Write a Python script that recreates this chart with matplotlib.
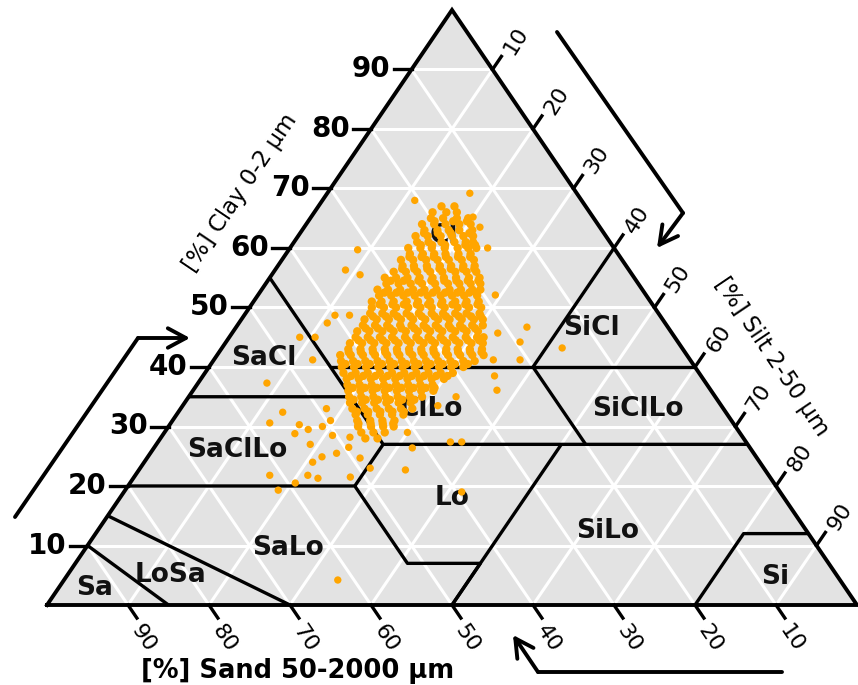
"""Soil texture triangle with sample points."""
import numpy as np
import matplotlib.pyplot as plt

# Class boundaries as (clay, silt) vertex chains in percent
boundaries = [
    [(10, 0), (0, 15)],                                  # Sa / LoSa
    [(15, 0), (0, 30)],                                  # LoSa / SaLo
    [(20, 0), (20, 28), (7, 41), (7, 50), (0, 50)],      # SaLo / SaClLo, Lo
    [(35, 0), (35, 20), (55, 0)],                        # SaClLo / SaCl, Cl
    [(35, 20), (27, 28), (27, 73)],                      # SaClLo / ClLo, Lo / SiLo
    [(20, 28), (27, 28)],
    [(40, 15), (40, 60)],                                # ClLo, SiClLo / Cl, SiCl
    [(40, 40), (27, 53)],                                # ClLo / SiClLo
    [(40, 40), (60, 40)],                                # Cl / SiCl
    [(27, 50), (0, 50)],                                 # Lo / SiLo
    [(0, 80), (12, 80), (12, 88)],                       # SiLo / Si
]

class_names = ['Cl', 'SaCl', 'SiCl', 'SaClLo', 'ClLo', 'SiClLo',
               'Lo', 'SiLo', 'SaLo', 'LoSa', 'Sa', 'Si']
class_clay = [62, 41.5, 46.5, 26, 33, 33, 18, 12.5, 9.5, 5, 2.8, 4.7]
class_silt = [18, 6, 44, 10.5, 31, 56.5, 41, 63, 25, 12.7, 4.5, 87.5]

ticks = [10, 20, 30, 40, 50, 60, 70, 80, 90]

# Measured samples: clay and silt percent, rows of the dense core by clay
core_clay = [67, 66, 65, 64, 63, 62, 61, 60, 59, 58, 57, 56, 55, 54, 53, 52,
             51, 50, 49, 48, 47, 46, 45, 44, 43, 42, 41, 40, 39, 38, 37, 36,
             35, 34, 33, 32, 31, 30, 29, 28]
core_silt = [
    [15.2, 16.8],
    [14.6, 16.3, 17.6],
    [14.9, 16.4, 18.1, 19.5],
    [14.3, 15.8, 17.2, 18.9, 20.3],
    [15.1, 16.7, 18.1, 19.4, 21.0],
    [14.5, 16.0, 17.6, 19.0, 20.4, 21.6],
    [15.2, 16.6, 18.2, 19.8, 21.2, 22.1],
    [14.6, 16.1, 17.5, 19.1, 20.7, 22.0, 23.0],
    [15.3, 16.9, 18.3, 19.7, 21.3, 22.8],
    [14.7, 16.2, 17.8, 19.2, 20.6, 22.2, 23.7],
    [15.4, 16.8, 18.4, 20.0, 21.4, 22.9, 24.3],
    [14.8, 16.3, 17.7, 19.3, 20.8, 22.4, 23.8, 25.0],
    [14.2, 15.6, 17.0, 18.5, 20.1, 21.5, 23.0, 24.6, 25.9],
    [14.9, 16.4, 17.9, 19.3, 20.9, 22.5, 23.9, 25.3, 26.5],
    [14.3, 15.6, 17.1, 18.7, 20.1, 21.6, 23.2, 24.6, 26.0, 27.0],
    [15.0, 16.5, 18.0, 19.4, 21.0, 22.6, 24.0, 25.5, 27.1],
    [14.6, 15.8, 17.3, 18.9, 20.3, 21.8, 23.3, 24.9, 26.3, 27.8],
    [15.1, 16.6, 18.1, 19.6, 21.1, 22.5, 24.1, 25.7, 27.1, 28.6],
    [15.4, 16.9, 18.3, 19.9, 21.4, 23.0, 24.4, 25.9, 27.3, 28.9],
    [15.2, 16.7, 18.2, 19.7, 21.2, 22.7, 24.3, 25.7, 27.2, 28.7, 29.8],
    [15.5, 17.0, 18.5, 20.1, 21.5, 23.0, 24.5, 26.1, 27.5, 29.0, 30.3],
    [15.3, 16.8, 18.4, 19.8, 21.3, 22.8, 24.3, 25.8, 27.4, 28.8, 30.2],
    [15.6, 17.1, 18.6, 20.1, 21.7, 23.1, 24.6, 26.1, 27.6, 29.2, 30.6, 31.4],
    [15.4, 16.9, 18.4, 19.9, 21.4, 22.9, 24.5, 25.9, 27.4, 28.9, 30.4, 31.8],
    [15.7, 17.2, 18.7, 20.2, 21.7, 23.2, 24.7, 26.2, 27.8, 29.2, 30.7, 32.2],
    [15.2, 16.5, 18.0, 19.5, 21.0, 22.5, 24.1, 25.5, 27.0, 28.5, 30.0, 31.5, 32.9],
    [15.8, 17.3, 18.8, 20.3, 21.8, 23.3, 24.8, 26.3, 27.8, 29.3, 30.9, 32.3],
    [16.4, 17.9, 19.4, 20.9, 22.4, 23.9, 25.4, 26.9, 28.4, 29.9, 31.4],
    [17.1, 18.6, 20.1, 21.6, 23.1, 24.6, 26.1, 27.6, 29.1, 30.6],
    [18.0, 19.5, 21.0, 22.5, 24.0, 25.5, 27.0, 28.5, 30.0],
    [18.6, 20.1, 21.6, 23.1, 24.6, 26.1, 27.6, 29.1],
    [19.2, 20.7, 22.2, 23.7, 25.2, 26.7, 28.2, 29.7],
    [19.8, 21.3, 22.8, 24.3, 25.8, 27.3, 28.8],
    [20.4, 21.9, 23.4, 24.9, 26.4, 27.9],
    [21.2, 22.7, 24.2, 25.7, 27.2, 28.6],
    [22.1, 23.6, 25.1, 26.6, 28.0],
    [22.8, 24.4, 25.9, 27.4],
    [23.4, 25.0, 26.5, 27.8],
    [24.3, 25.8, 27.2],
    [25.3, 26.8],
]

# In-between rows of the core, half a percent clay higher
mid_clay = [64.5, 62.5, 60.5, 58.5, 56.5, 54.5, 52.5, 50.5, 48.5, 46.5,
            44.5, 42.5, 40.5, 38.5, 36.5, 34.5, 32.5, 30.5]
mid_silt = [
    [15.6, 17.9, 19.6],
    [15.3, 17.0, 18.6, 20.9],
    [15.9, 17.3, 18.9, 21.4, 22.6],
    [15.5, 17.0, 18.5, 20.0, 21.5, 23.0],
    [15.6, 17.1, 18.7, 20.2, 21.6, 23.1, 24.5],
    [15.2, 16.8, 18.6, 20.2, 21.8, 23.3, 24.7, 26.0],
    [15.4, 16.9, 18.3, 19.9, 21.4, 22.9, 24.4, 25.9, 26.8],
    [15.8, 17.4, 18.8, 20.4, 21.8, 23.4, 24.8, 26.4, 27.9],
    [16.0, 17.6, 19.0, 20.6, 22.0, 23.6, 25.0, 26.6, 28.1, 29.3],
    [16.1, 17.6, 19.1, 20.5, 22.1, 23.6, 25.1, 26.6, 28.1, 29.6],
    [16.2, 17.7, 19.2, 20.7, 22.2, 23.7, 25.2, 26.7, 28.2, 29.7, 31.1],
    [16.0, 17.5, 19.0, 20.5, 22.0, 23.5, 25.0, 26.5, 28.0, 29.5, 31.0, 32.4],
    [16.6, 18.1, 19.6, 21.1, 22.6, 24.1, 25.6, 27.1, 28.6, 30.1, 31.7],
    [18.3, 19.8, 21.3, 22.8, 24.3, 25.8, 27.3, 28.8, 30.2],
    [19.5, 21.0, 22.5, 24.0, 25.5, 27.0, 28.5, 29.6],
    [20.6, 22.1, 23.6, 25.1, 26.6, 28.1],
    [22.0, 23.4, 24.9, 26.4, 27.8],
    [23.2, 24.7, 26.2, 27.5],
]

# Scattered samples outside the core
extra_clay = [69.2, 68.0, 59.7, 56.3, 55.5, 60.0, 63.5, 65.2, 52.1, 46.7,
              44.2, 45.7, 43.2, 48.7, 48.7, 47.4, 45.0, 45.0, 41.2, 41.2,
              41.2, 37.3, 32.4, 30.6, 30.3, 21.8, 19.3, 20.5, 21.3, 21.8,
              21.5, 24.0, 24.9, 25.5, 24.7, 23.0, 22.7, 26.4, 27.4, 27.4,
              4.2, 19.0, 36.1, 38.5, 33.0, 31.0, 28.5, 27.0, 26.5, 29.0,
              33.5, 35.0, 29.5, 28.2, 30.0, 28.8]
extra_silt = [17.6, 11.4, 8.5, 8.7, 10.9, 24.4, 21.7, 20.0, 29.3, 35.9,
              36.3, 32.8, 42.0, 11.2, 13.0, 10.9, 10.6, 8.7, 12.2, 34.5,
              37.8, 8.5, 12.9, 12.2, 16.0, 16.6, 18.9, 20.4, 22.8, 21.3,
              26.7, 20.8, 21.5, 23.0, 26.3, 28.4, 32.9, 31.9, 36.1, 37.5,
              33.8, 41.7, 37.5, 36.0, 18.0, 19.5, 21.0, 19.0, 24.0, 30.0,
              31.5, 33.0, 17.5, 23.3, 19.0, 16.2]


def tern(clay, silt):
    clay = np.asarray(clay, float)
    silt = np.asarray(silt, float)
    return silt + clay / 2, clay


def px(x, y):
    # position given in figure pixels -> ternary plane coordinates
    return (x - 47) / 8.1, (605 - y) / 5.95


fig = plt.figure(figsize=(8.58, 6.85), dpi=100)
ax = fig.add_axes([0, 0, 1, 1])
ax.set_xlim(-47 / 8.1, 811 / 8.1)
ax.set_ylim(-80 / 5.95, 605 / 5.95)
ax.axis('off')

# background triangle
ax.fill([0, 100, 50], [0, 0, 100], color='#e3e3e3', zorder=0)

# white grid
for v in ticks:
    x, y = tern([v, v], [0, 100 - v])
    ax.plot(x, y, color='white', lw=2.2, zorder=1)
    x, y = tern([0, 100 - v], [v, v])
    ax.plot(x, y, color='white', lw=2.2, zorder=1)
    x, y = tern([0, 100 - v], [100 - v, 0])
    ax.plot(x, y, color='white', lw=2.2, zorder=1)

# class boundaries
for line in boundaries:
    c, s = zip(*line)
    x, y = tern(c, s)
    ax.plot(x, y, color='black', lw=2.4, zorder=3, solid_capstyle='butt')

ax.plot([0, 100, 50, 0], [0, 0, 100, 0], color='black', lw=2.8, zorder=6,
        solid_joinstyle='miter')

for name, c, s in zip(class_names, class_clay, class_silt):
    x, y = tern(c, s)
    ax.text(x, y, name, fontsize=19, fontweight='bold', ha='center',
            va='center', zorder=2.5, color='#111111')

# samples
pc, ps = [], []
for rows_c, rows_s in ((core_clay, core_silt), (mid_clay, mid_silt)):
    for c, row in zip(rows_c, rows_s):
        pc += [c] * len(row)
        ps += row
x, y = tern(pc, ps)
ax.scatter(x, y, s=36, color='orange', edgecolor='none', zorder=5)
x, y = tern(extra_clay, extra_silt)
ax.scatter(x, y, s=28, color='orange', edgecolor='none', zorder=5)

# axis ticks and labels
for v in ticks:
    # clay, left edge
    x, y = tern(v, 0)
    ax.plot([x - 2.2, x], [y, y], color='black', lw=2.4, zorder=6)
    ax.text(x - 2.6, y, str(v), fontsize=20, fontweight='bold',
            ha='right', va='center')
    # silt, right edge
    x, y = tern(100 - v, v)
    ax.plot([x, x + 1.1], [y, y + 2.2], color='black', lw=2.4, zorder=6)
    ax.text(x + 2.9, y + 4.8, str(v), fontsize=16, rotation=58,
            ha='center', va='center', rotation_mode='anchor')
    # sand, bottom edge
    x, y = tern(0, 100 - v)
    ax.plot([x, x + 1.1], [y, y - 2.2], color='black', lw=2.4, zorder=6)
    ax.text(x + 1.9, y - 5.6, str(v), fontsize=16, rotation=-56,
            ha='center', va='center', rotation_mode='anchor')

ax.text(*px(240, 193), '[%] Clay 0-2 \u00b5m', fontsize=16.5, rotation=56,
        ha='center', va='center')
ax.text(*px(772, 357), '[%] Silt 2-50 \u00b5m', fontsize=16.5, rotation=-56,
        ha='center', va='center')
ax.text(*px(298, 671), '[%] Sand 50-2000 \u00b5m', fontsize=18.5,
        fontweight='bold', ha='center', va='center')

# direction arrows
arrows = [
    [(15, 517), (138, 338), (190, 338)],
    [(557, 32), (683, 213), (657, 248)],
    [(782, 672), (538, 672), (513, 635)],
]
for a in arrows:
    p = [px(*q) for q in a]
    ax.plot([p[0][0], p[1][0]], [p[0][1], p[1][1]], color='black', lw=2.8,
            solid_capstyle='round')
    ax.annotate('', xy=p[2], xytext=p[1],
                arrowprops=dict(arrowstyle='->,head_length=1.3,head_width=0.7',
                                lw=2.8, color='black', shrinkA=0, shrinkB=0))

fig.savefig('out.png', dpi=100)
